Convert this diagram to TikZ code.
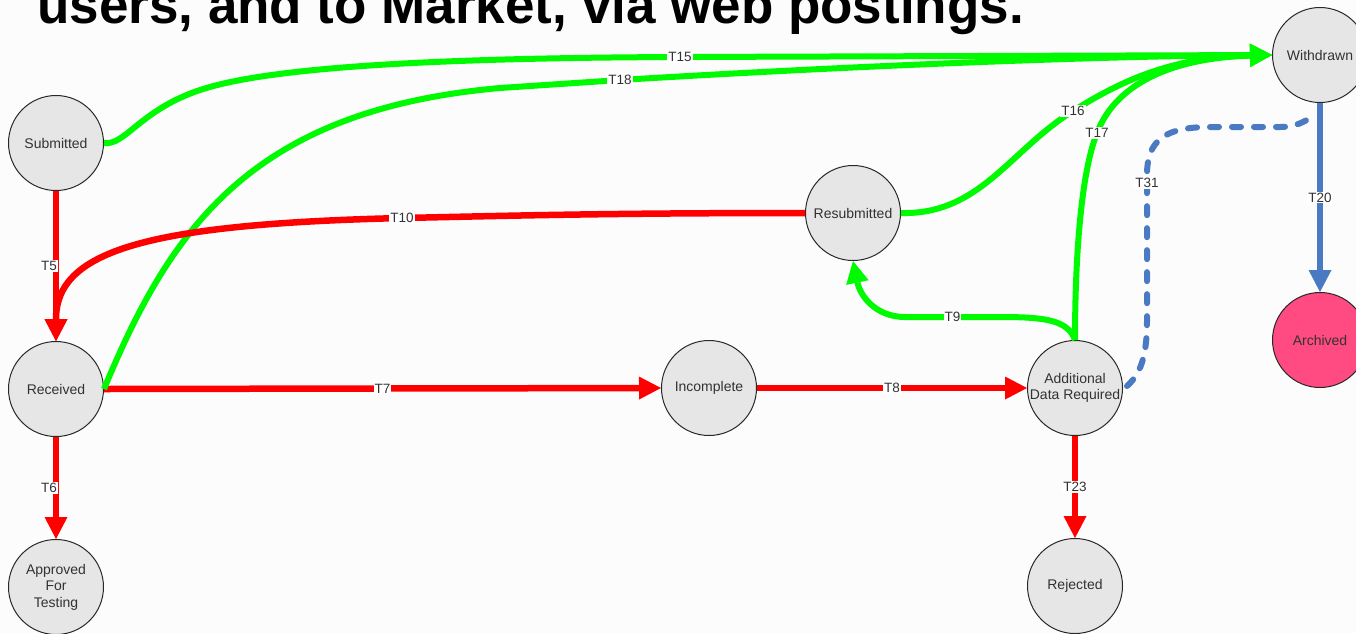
\documentclass[tikz,border=0pt]{standalone}
\usepackage{fontspec}
\setmainfont{Liberation Sans}
\usetikzlibrary{arrows.meta}
\definecolor{bg}{RGB}{252,252,252}
\definecolor{gr}{RGB}{0,250,0}
\definecolor{rd}{RGB}{255,0,0}
\definecolor{bl}{RGB}{74,122,194}
\definecolor{pk}{RGB}{255,75,130}
\definecolor{nodefill}{RGB}{230,230,230}
\definecolor{nodeline}{RGB}{40,40,40}
\definecolor{txt}{RGB}{50,50,50}
\begin{document}
\begin{tikzpicture}[x=1pt,y=-1pt,
  state/.style={circle,draw=nodeline,line width=1pt,fill=nodefill,minimum size=95pt,inner sep=0pt,align=center,font=\fontsize{14}{16.5}\selectfont,text=txt},
  lab/.style={fill=white,inner sep=1pt,font=\fontsize{13.5}{14}\selectfont,text=txt},
  tip/.style={-{Triangle[width=23pt,length=22pt,line width=0pt]}},
  redarrow/.style={draw=rd,line width=6.5pt,tip},
  greenarrow/.style={draw=gr,line width=6pt,tip},
  bluearrow/.style={draw=bl,line width=6pt,tip},
  bluedash/.style={draw=bl,line width=6pt,line cap=round,dash pattern=on 9pt off 13pt}
]
\useasboundingbox (0,0) rectangle (1356,633);
\fill[bg] (0,0) rectangle (1356,633);

\node[anchor=base west,inner sep=0pt,font=\fontsize{53}{60}\selectfont\bfseries] (title) at (37,23) {users, and to Market, via web postings.};

\node[state] (sub) at (56,143) {Submitted};
\node[state] (rec) at (56,389) {Received};
\node[state] (app) at (56,587) {Approved\\For\\Testing};
\node[state] (inc) at (709,388) {Incomplete};
\node[state] (adr) at (1075,388) {Additional\\Data Required};
\node[state] (rej) at (1075,586) {Rejected};
\node[state] (res) at (853,213) {Resubmitted};
\node[state] (wd) at (1320,55) {Withdrawn};
\node[state,fill=pk] (arc) at (1320,340) {Archived};

% green transitions to Withdrawn
\draw[greenarrow] (sub.east) .. controls (125,146) and (140,110) .. (200,90)
  .. controls (260,70) and (400,58) .. (680,57) node[lab]{T15} -- (wd.west);
\draw[redarrow] (rec.east) -- node[lab]{T7} (inc.west);
\draw[greenarrow] (rec.east) .. controls (170,230) and (250,110) .. (500,88)
  -- (620,80) node[lab]{T18} .. controls (850,66) and (1100,56) .. (wd.west);
\draw[greenarrow] (res.east) .. controls (980,215) and (1010,150) .. (1073,111) node[lab]{T16}
  .. controls (1130,75) and (1180,57) .. (wd.west);
\draw[greenarrow] (adr.north) .. controls (1075,250) and (1082,170) .. (1097,133) node[lab]{T17}
  .. controls (1115,85) and (1170,58) .. (wd.west);
\draw[greenarrow] (adr.north) .. controls (1068,320) and (1045,317) .. (1000,317)
  -- node[lab]{T9} (905,317) .. controls (875,317) and (860,295) .. (res.south);

% red transitions
\draw[redarrow] (res.west) .. controls (600,213) and (500,216) .. (402,218) node[lab]{T10}
  .. controls (150,224) and (56,250) .. (rec.north);
\draw[redarrow] (sub.south) -- node[lab,xshift=-7pt]{T5} (rec.north);
\draw[redarrow] (rec.south) -- node[lab,xshift=-7pt]{T6} (app.north);
\draw[redarrow] (inc.east) -- node[lab]{T8} (adr.west);
\draw[redarrow] (adr.south) -- node[lab]{T23} (rej.north);

% blue transitions
\draw[bluearrow] (wd.south) -- node[lab]{T20} (arc.north);
\draw[bluedash] ([xshift=4pt,yshift=2pt]adr.east) .. controls (1143,372) and (1147,350) .. (1147,320)
  -- (1147,183) node[lab]{T31} -- (1147,175) .. controls (1147,140) and (1165,127) .. (1210,127)
  -- (1280,127) .. controls (1295,127) and (1305,122) .. ([xshift=-6pt,yshift=-12pt]wd.south);
\end{tikzpicture}
\end{document}
